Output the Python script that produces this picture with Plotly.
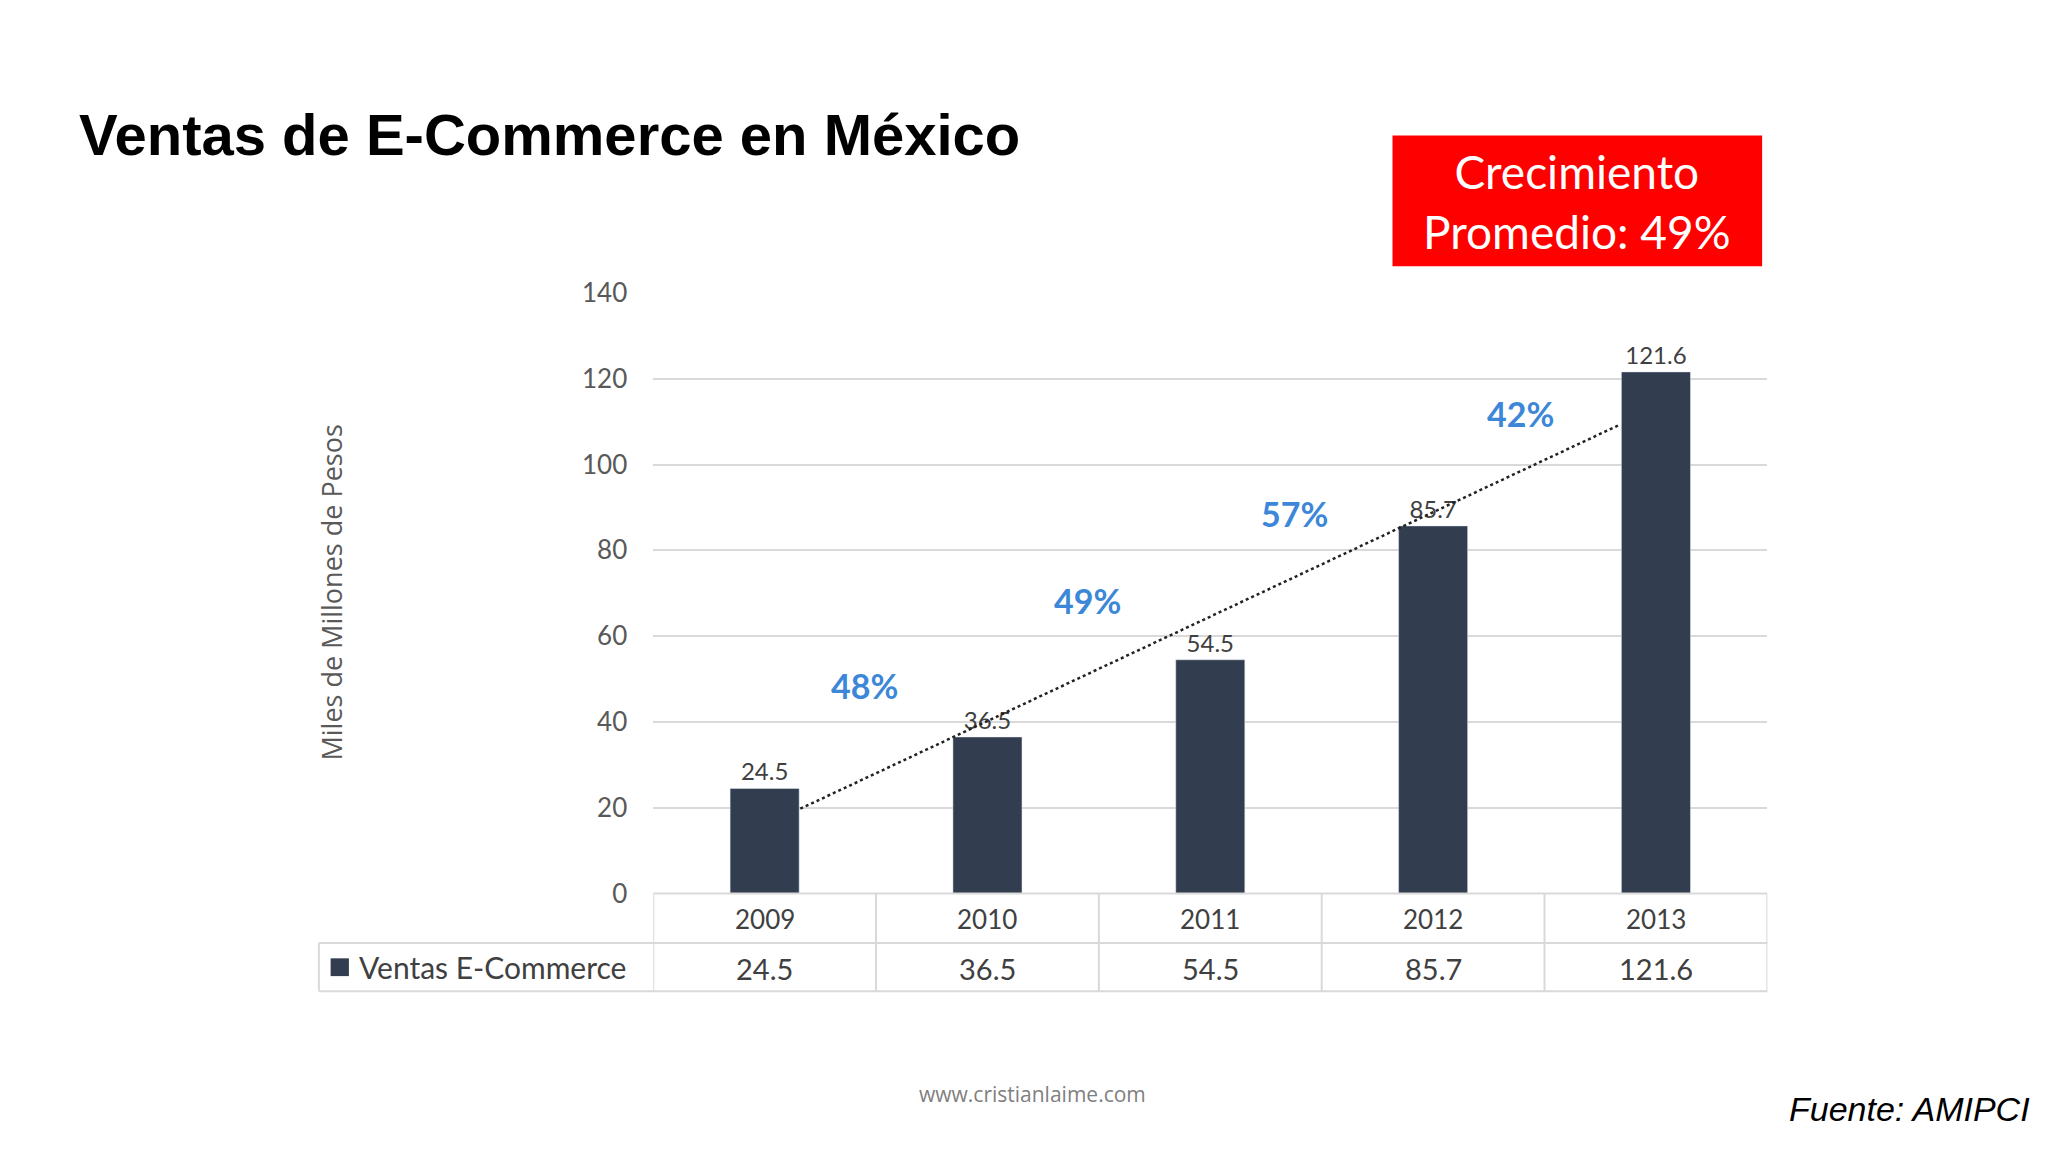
import numpy as np
import plotly.graph_objects as go

years = ["2009", "2010", "2011", "2012", "2013"]
ventas = [24.5, 36.5, 54.5, 85.7, 121.6]
growth_labels = ["48%", "49%", "57%", "42%"]
growth_x = [0.45, 1.45, 2.38, 3.39]
growth_y = [48.5, 68.4, 88.5, 112]
ticks = [0, 20, 40, 60, 80, 100, 120, 140]

W, H = 2048, 1152
def py(y): return (882 - y) / 882
def px(x): return x / 1568

xi = list(range(len(years)))
fig = go.Figure()
fig.add_bar(x=xi, y=ventas, width=0.31, marker_color="#323e4f",
            text=[str(v) for v in ventas], textposition="outside",
            textfont=dict(size=24, color="#404040", family="Lato"), cliponaxis=False,
            showlegend=False)
coef = np.polyfit(xi, ventas, 1)
tx = [0.16, 3.84]
fig.add_scatter(x=tx, y=[np.polyval(coef, t) for t in tx], mode="lines",
                line=dict(color="#222222", width=2.5, dash="dot"), showlegend=False)
for t, x, y in zip(growth_labels, growth_x, growth_y):
    fig.add_annotation(x=x, y=y, text=f"<b>{t}</b>", showarrow=False, xanchor="center", yanchor="middle",
                       font=dict(size=34, color="#3c87d8", family="Lato"))

fig.update_layout(
    width=W, height=H, margin=dict(l=0, r=0, t=0, b=0),
    plot_bgcolor="white", paper_bgcolor="white",
    xaxis=dict(domain=[px(494), px(1347)], range=[-0.5, 4.5], showticklabels=False,
               showgrid=False, zeroline=False),
    yaxis=dict(domain=[py(684), py(211)], range=[0, 140], tickvals=ticks,
               gridcolor="#d9d9d9", gridwidth=1.5, zeroline=False,
               tickfont=dict(size=26, color="#595959", family="Lato"), ticklabelstandoff=25),
)

lc = "#d9d9d9"
fig.add_shape(type="line", xref="x", yref="paper", x0=-0.5, x1=4.5, y0=py(684), y1=py(684), line=dict(color=lc, width=2))
for yy in [723, 761]:
    fig.add_shape(type="line", xref="paper", yref="paper", x0=px(238), x1=px(1347), y0=py(yy), y1=py(yy), line=dict(color=lc, width=2))
for i in range(6):
    fig.add_shape(type="line", xref="x", yref="paper", x0=i - 0.5, x1=i - 0.5, y0=py(684), y1=py(761), line=dict(color=lc, width=2))
fig.add_shape(type="line", xref="paper", yref="paper", x0=px(238), x1=px(238), y0=py(723), y1=py(761), line=dict(color=lc, width=2))
for i, (yr, v) in enumerate(zip(years, ventas)):
    fig.add_annotation(x=i, y=py(704), xref="x", yref="paper", text=yr, showarrow=False,
                       xanchor="center", yanchor="middle",
                       font=dict(size=26, color="#404040", family="Lato"))
    fig.add_annotation(x=i, y=py(743), xref="x", yref="paper", text=str(v), showarrow=False,
                       xanchor="center", yanchor="middle",
                       font=dict(size=29, color="#404040", family="Lato"))
fig.add_shape(type="rect", xref="paper", yref="paper", x0=px(247), x1=px(261), y0=py(749), y1=py(735),
              fillcolor="#323e4f", line=dict(width=0))
fig.add_annotation(x=px(267), y=py(742), xref="paper", yref="paper", xanchor="left", yanchor="middle",
                   text="Ventas E-Commerce", showarrow=False,
                   font=dict(size=30, color="#404040", family="Lato"))

fig.add_annotation(x=px(248), y=py(447), xref="paper", yref="paper", text="Miles de Millones de Pesos",
                   xanchor="center", yanchor="middle",
                   textangle=-90, showarrow=False, font=dict(size=27, color="#595959", family="Open Sans"))
fig.add_annotation(x=px(53), y=py(86), xref="paper", yref="paper", xanchor="left", yanchor="middle",
                   text="<b>Ventas de E-Commerce en México</b>", showarrow=False,
                   font=dict(size=58, color="black", family="Liberation Sans"))
fig.add_shape(type="rect", xref="paper", yref="paper", x0=px(1060), x1=px(1343), y0=py(190), y1=py(87),
              fillcolor="#ff0000", line=dict(width=0))
fig.add_annotation(x=px(1201), y=py(139), xref="paper", yref="paper", text="Crecimiento<br>Promedio: 49%",
                   xanchor="center", yanchor="middle",
                   showarrow=False, font=dict(size=46, color="white", family="Lato"))
fig.add_annotation(x=px(784), y=py(842), xref="paper", yref="paper", text="www.cristianlaime.com",
                   xanchor="center", yanchor="middle",
                   showarrow=False, font=dict(size=21, color="#808080", family="Open Sans"))
fig.add_annotation(x=px(1550), y=py(854), xref="paper", yref="paper", xanchor="right", yanchor="middle",
                   text="<i>Fuente: AMIPCI</i>", showarrow=False,
                   font=dict(size=34, color="black", family="Liberation Sans"))

fig.write_html("out.html")
